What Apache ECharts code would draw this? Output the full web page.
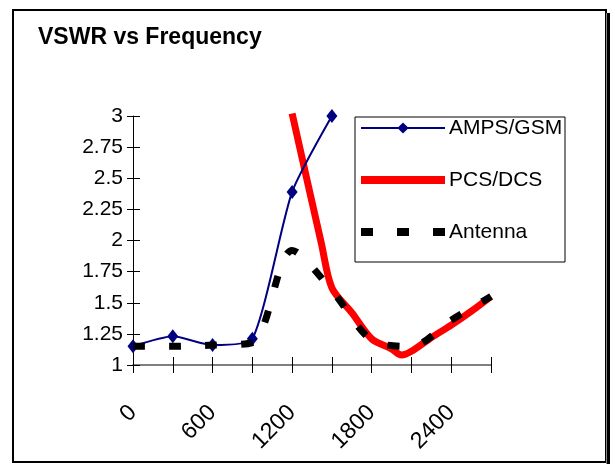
<!DOCTYPE html>
<html>
<head>
<meta charset="utf-8">
<script src="https://cdn.jsdelivr.net/npm/echarts@6/dist/echarts.min.js"></script>
<style>
html,body{margin:0;padding:0;background:#fff;}
#c{width:615px;height:464px;}
</style>
</head>
<body>
<div id="c"></div>
<script>
// ---- data ----
var titleText = 'VSWR vs Frequency';
var seriesNames = ['AMPS/GSM', 'PCS/DCS', 'Antenna'];
var freqAmps = [0, 300, 600, 900, 1200, 1500];
var vswrAmps = [1.15, 1.23, 1.16, 1.21, 2.39, 3.0];
var freqPcs = [1200, 1420, 1500, 1650, 1800, 1950, 2025, 2100, 2250, 2400, 2550, 2700];
var vswrPcs = [3.02, 1.98, 1.62, 1.42, 1.21, 1.13, 1.08, 1.11, 1.22, 1.32, 1.43, 1.55];
var freqAnt = [0, 300, 600, 900, 1200, 1500, 1800, 2100, 2400, 2700];
var vswrAnt = [1.15, 1.15, 1.16, 1.18, 1.92, 1.6, 1.2, 1.15, 1.36, 1.55];
var xTicks = {min: 0, max: 2700, step: 300, labelStep: 600};
var yTicks = {min: 1, max: 3, step: 0.25};

function pairs(xs, ys) { return xs.map(function (x, i) { return [x, ys[i]]; }); }

var FONT = "'Liberation Sans', Arial, sans-serif";
var chart = echarts.init(document.getElementById('c'), null, {renderer: 'canvas'});

var baseX = {
  type: 'value', min: xTicks.min, max: xTicks.max, interval: xTicks.step,
  splitLine: {show: false}
};
var baseY = {
  type: 'value', min: yTicks.min, max: yTicks.max, interval: yTicks.step,
  splitLine: {show: false}
};

chart.setOption({
  animation: false,
  backgroundColor: '#fff',
  title: {
    text: titleText, left: 33, top: 21,
    textStyle: {fontFamily: FONT, fontWeight: 'bold', fontSize: 23, color: '#000'}
  },
  grid: {left: 133, right: 124, top: 116, bottom: 99, containLabel: false},
  xAxis: [
    Object.assign({}, baseX, {
      axisLine: {show: true, lineStyle: {color: '#555', width: 1.5}},
      axisTick: {show: true, inside: false, length: 8, lineStyle: {color: '#000', width: 1}},
      axisLabel: {
        rotate: 45, margin: 44, fontSize: 23, color: '#000', fontFamily: FONT,
        formatter: function (v) { return (v % xTicks.labelStep === 0) ? String(v) : ''; }
      }
    }),
    Object.assign({}, baseX, {
      position: 'bottom',
      axisLine: {show: false},
      axisTick: {show: true, inside: true, length: 8, lineStyle: {color: '#000', width: 1}},
      axisLabel: {show: false}
    })
  ],
  yAxis: [
    Object.assign({}, baseY, {
      axisLine: {show: true, lineStyle: {color: '#000', width: 1}},
      axisTick: {show: true, inside: false, length: 6, lineStyle: {color: '#000', width: 1}},
      axisLabel: {
        margin: 10, fontSize: 21, color: '#000', fontFamily: FONT,
        formatter: function (v) { return String(Math.round(v * 100) / 100); }
      }
    }),
    Object.assign({}, baseY, {
      position: 'left', offset: 0,
      axisLine: {show: false},
      axisTick: {show: true, inside: true, length: 7, lineStyle: {color: '#000', width: 1}},
      axisLabel: {show: false}
    })
  ],
  legend: {
    orient: 'vertical', left: 357, top: 117,
    padding: 0, itemGap: 30, itemWidth: 84, itemHeight: 14,
    textStyle: {fontSize: 21, lineHeight: 22, color: '#000', fontFamily: FONT, padding: [0, 0, 0, -1]},
    data: [
      {name: seriesNames[0], lineStyle: {width: 2}},
      {name: seriesNames[1], itemStyle: {opacity: 0}, lineStyle: {width: 8}},
      {name: seriesNames[2], itemStyle: {opacity: 0}, lineStyle: {width: 8, type: [12, 24], cap: 'butt'}}
    ]
  },
  graphic: [
    {type: 'rect', shape: {x: 355, y: 117, width: 210, height: 145}, style: {fill: 'none', stroke: '#000', lineWidth: 1}, z: 100},
    {type: 'rect', shape: {x: 13, y: 10, width: 593, height: 452}, style: {fill: 'none', stroke: '#000', lineWidth: 2}, z: 100},
    {type: 'rect', shape: {x: 607, y: 13, width: 3, height: 451}, style: {fill: '#000'}, z: 100},
    {type: 'rect', shape: {x: 606, y: 13, width: 1, height: 451}, style: {fill: '#888'}, z: 100}
  ],
  series: [
    {
      name: seriesNames[0], type: 'line', data: pairs(freqAmps, vswrAmps), smooth: 0.2,
      symbol: 'diamond', symbolSize: [11, 14],
      itemStyle: {color: '#000080'}, lineStyle: {color: '#000080', width: 2}, z: 3
    },
    {
      name: seriesNames[1], type: 'line', data: pairs(freqPcs, vswrPcs), smooth: 0.3,
      symbol: 'none', showSymbol: false,
      itemStyle: {color: '#ff0000'}, lineStyle: {color: '#ff0000', width: 7}, z: 2
    },
    {
      name: seriesNames[2], type: 'line', data: pairs(freqAnt, vswrAnt), smooth: 0.3,
      symbol: 'none', showSymbol: false,
      itemStyle: {color: '#000'}, lineStyle: {color: '#000', width: 7, type: [12, 24], cap: 'butt'}, z: 4
    }
  ]
});
</script>
</body>
</html>
